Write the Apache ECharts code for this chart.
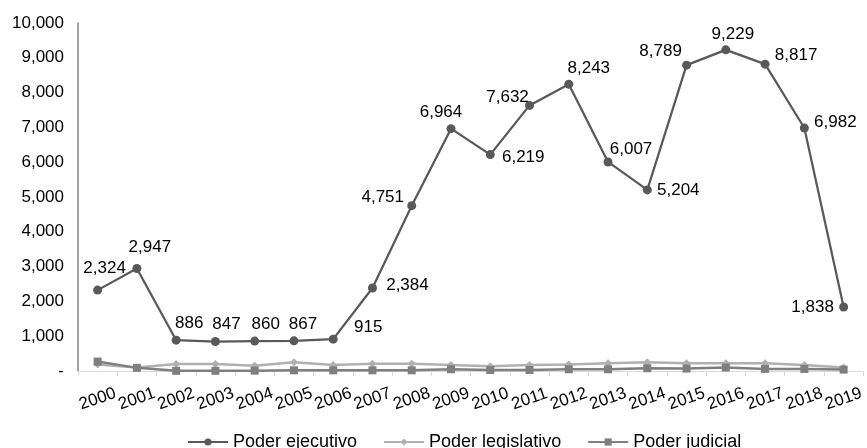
<!DOCTYPE html>
<html>
<head>
<meta charset="utf-8">
<script src="https://cdn.jsdelivr.net/npm/echarts@6/dist/echarts.min.js"></script>
<style>
  html, body { margin: 0; padding: 0; background: #fff; }
  #chart { width: 867px; height: 448px; }
</style>
</head>
<body>
<div id="chart"></div>
<script>
// Years on the category axis
const years = ['2000','2001','2002','2003','2004','2005','2006','2007','2008','2009',
               '2010','2011','2012','2013','2014','2015','2016','2017','2018','2019'];

// Series values
const poderEjecutivo   = [2324, 2947, 886, 847, 860, 867, 915, 2384, 4751, 6964,
                          6219, 7632, 8243, 6007, 5204, 8789, 9229, 8817, 6982, 1838];
const poderLegislativo = [190, 100, 200, 200, 150, 250, 170, 210, 210, 170,
                          140, 170, 190, 220, 250, 220, 220, 220, 170, 100];
const poderJudicial    = [270, 90, 5, 5, 10, 20, 20, 20, 20, 50,
                          30, 30, 50, 50, 80, 70, 100, 60, 60, 40];

// Value axis ticks
const yMin = 0, yMax = 10000, yStep = 1000;

// Where each value label sits relative to its point (dx, dy in px)
const labelOffsets = [
  [7, -22], [13, -21], [13, -17], [11, -17], [11, -17], [9, -17], [35, -12],
  [35, -3], [-29, -8], [-10, -16], [33, 3], [-22, -8], [20, -16], [23, -13],
  [31, 0], [-26, -14], [7, -16], [31, -9], [31, -6], [-31, 0]
];

const fmt = v => v.toLocaleString('en-US');
const FONT = 'Liberation Sans, Arial, sans-serif';

const chart = echarts.init(document.getElementById('chart'), null, { renderer: 'canvas' });

chart.setOption({
  animation: false,
  backgroundColor: '#ffffff',
  textStyle: { fontFamily: FONT, color: '#000' },
  grid: { left: 78, right: 0, top: 23, bottom: 77, containLabel: false },
  legend: {
    top: 428,
    left: 182,
    itemWidth: 40,
    itemHeight: 9,
    itemGap: 26,
    textStyle: { fontFamily: FONT, fontSize: 18, color: '#000' },
    data: ['Poder ejecutivo', 'Poder legislativo', 'Poder judicial']
  },
  xAxis: {
    type: 'category',
    data: years,
    boundaryGap: true,
    axisLine: { lineStyle: { color: '#d9d9d9', width: 1 } },
    axisTick: { show: true, inside: false, length: 5, lineStyle: { color: '#d9d9d9' } },
    axisLabel: {
      interval: 0,
      rotate: 19,
      align: 'center',
      verticalAlign: 'middle',
      margin: 28,
      fontFamily: FONT,
      fontSize: 17,
      color: '#000'
    },
    splitLine: { show: false }
  },
  yAxis: {
    type: 'value',
    min: yMin,
    max: yMax,
    interval: yStep,
    axisLine: { show: true, lineStyle: { color: '#868686', width: 1.5 } },
    axisTick: { show: false },
    splitLine: { show: false },
    axisLabel: {
      margin: 14,
      fontFamily: FONT,
      fontSize: 17,
      color: '#000',
      formatter: v => (v === 0 ? '-' : fmt(v))
    }
  },
  series: [
    {
      name: 'Poder legislativo',
      type: 'line',
      data: poderLegislativo,
      z: 2,
      symbol: 'diamond',
      symbolSize: 8,
      lineStyle: { color: '#b0b0b0', width: 2.5 },
      itemStyle: { color: '#b0b0b0' }
    },
    {
      name: 'Poder judicial',
      type: 'line',
      data: poderJudicial,
      z: 3,
      symbol: 'rect',
      symbolSize: 8,
      lineStyle: { color: '#7f7f7f', width: 2.5 },
      itemStyle: { color: '#7f7f7f' }
    },
    {
      name: 'Poder ejecutivo',
      type: 'line',
      z: 4,
      symbol: 'circle',
      symbolSize: 9,
      lineStyle: { color: '#595959', width: 2.25 },
      itemStyle: { color: '#595959' },
      data: poderEjecutivo.map((v, i) => ({
        value: v,
        label: {
          show: true,
          position: 'inside',
          offset: labelOffsets[i],
          formatter: p => fmt(p.value),
          fontFamily: FONT,
          fontSize: 17,
          color: '#000'
        }
      }))
    }
  ]
});
</script>
</body>
</html>
